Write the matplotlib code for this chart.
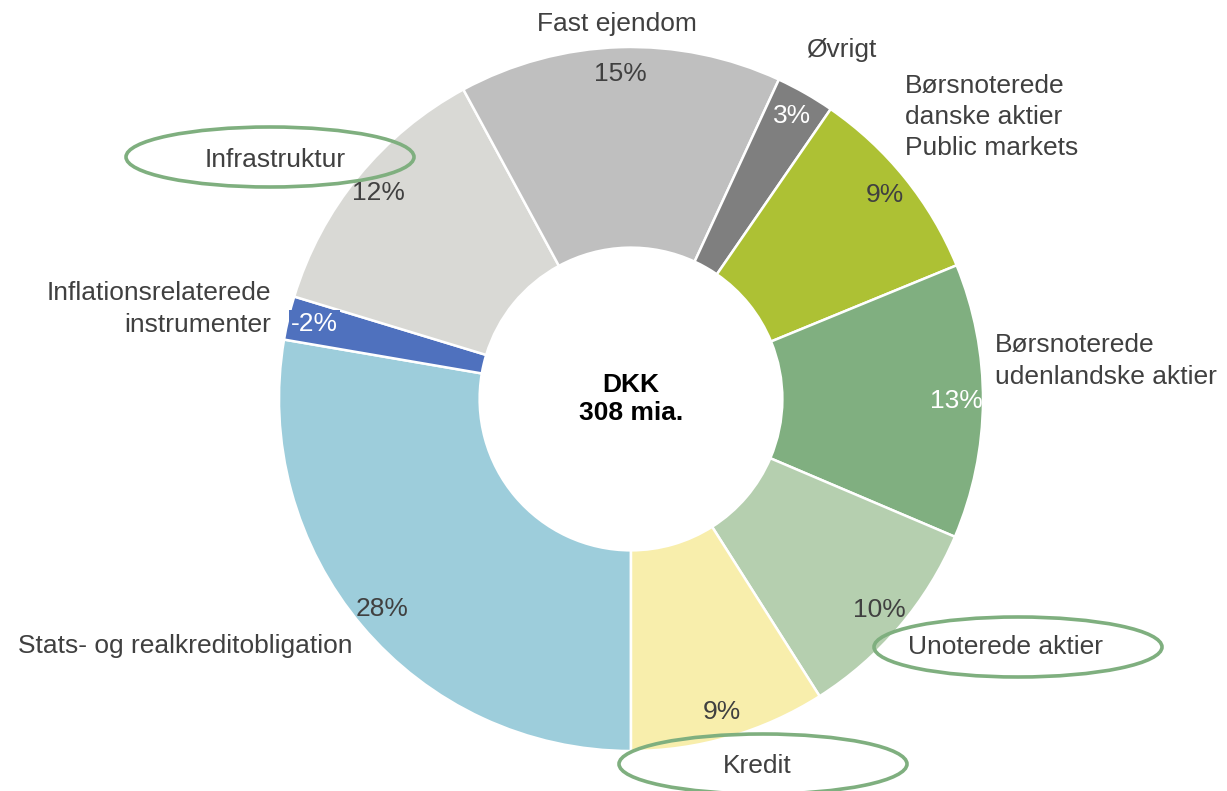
import numpy as np
import matplotlib
matplotlib.use("Agg")
import matplotlib.pyplot as plt
from matplotlib.patches import Ellipse

plt.rcParams['font.family'] = ['Liberation Sans', 'DejaVu Sans']

# data, clockwise from 6 o'clock
names = ["Stats- og realkreditobligation", "Inflationsrelaterede instrumenter",
         "Infrastruktur", "Fast ejendom", "Øvrigt",
         "Børsnoterede danske aktier Public markets",
         "Børsnoterede udenlandske aktier", "Unoterede aktier", "Kredit"]
shares = [27.7, 2.0, 12.4, 14.8, 2.7, 9.2, 12.6, 9.6, 9.0]
pct_labels = ["28%", "-2%", "12%", "15%", "3%", "9%", "13%", "10%", "9%"]
colors = ["#9DCDDB", "#4F71BE", "#D9D9D5", "#BFBFBF", "#7F7F7F",
          "#ADC134", "#80AF80", "#B5CFAF", "#F8EEAC"]
pct_colors = ["#404040", "white", "#404040", "#404040", "white",
              "#404040", "white", "#404040", "#404040"]
center_text = "DKK\n308 mia."

W, H = 1227, 791
CX, CY, R = 631, 399, 352
TXT = "#404040"
RING = "#7FAF7F"
FS = 19
LS = 1.38


def px(x, y):
    return (x - CX) / R, (CY - y) / R


fig = plt.figure(figsize=(W / 100, H / 100), dpi=100)
ax = fig.add_axes([0, 0, 1, 1])

wedges, _ = ax.pie(shares, colors=colors, startangle=-90, counterclock=False,
                   radius=1, wedgeprops=dict(width=0.57, edgecolor='white', linewidth=1.8))
ax.set_aspect('auto')
ax.set_xlim(-CX / R, (W - CX) / R)
ax.set_ylim((CY - H) / R, CY / R)
ax.axis('off')

# percentage labels at wedge middle
for w, lab, c in zip(wedges, pct_labels, pct_colors):
    ang = np.deg2rad((w.theta1 + w.theta2) / 2)
    x, y = 0.925 * np.cos(ang), 0.925 * np.sin(ang)
    kw = {}
    if lab == "-2%":
        kw['bbox'] = dict(boxstyle='square,pad=0.08', fc="#4F71BE", ec='none')
    ax.text(x, y, lab, ha='center', va='center', color=c, fontsize=FS, **kw)

ax.text(0, 0, center_text, ha='center', va='center', fontsize=FS,
        fontweight='bold', color='black', linespacing=1.2)

# category labels
ax.text(*px(617, 24), "Fast ejendom", ha='center', va='center', color=TXT, fontsize=FS)
ax.text(*px(841, 50), "Øvrigt", ha='center', va='center', color=TXT, fontsize=FS)
ax.text(*px(905, 117), "Børsnoterede\ndanske aktier\nPublic markets", ha='left',
        va='center', color=TXT, fontsize=FS, linespacing=LS)
ax.text(*px(995, 361), "Børsnoterede\nudenlandske aktier", ha='left', va='center',
        color=TXT, fontsize=FS, linespacing=LS)
ax.text(*px(1005, 647), "Unoterede aktier", ha='center', va='center', color=TXT, fontsize=FS)
ax.text(*px(757, 766), "Kredit", ha='center', va='center', color=TXT, fontsize=FS)
ax.text(*px(18, 646), "Stats- og realkreditobligation", ha='left', va='center',
        color=TXT, fontsize=FS)
ax.text(*px(271, 309), "Inflationsrelaterede\ninstrumenter", ha='right', va='center',
        multialignment='right', color=TXT, fontsize=FS, linespacing=LS)
ax.text(*px(275, 160), "Infrastruktur", ha='center', va='center', color=TXT, fontsize=FS)

# green rings round the highlighted labels
for (ex, ey) in [(270, 157), (1018, 647), (763, 764)]:
    cx, cy = px(ex, ey)
    ax.add_patch(Ellipse((cx, cy), 288 / R, 60 / R, fill=False, ec=RING, lw=2.6,
                         clip_on=False))

fig.savefig("out.png", dpi=100)
